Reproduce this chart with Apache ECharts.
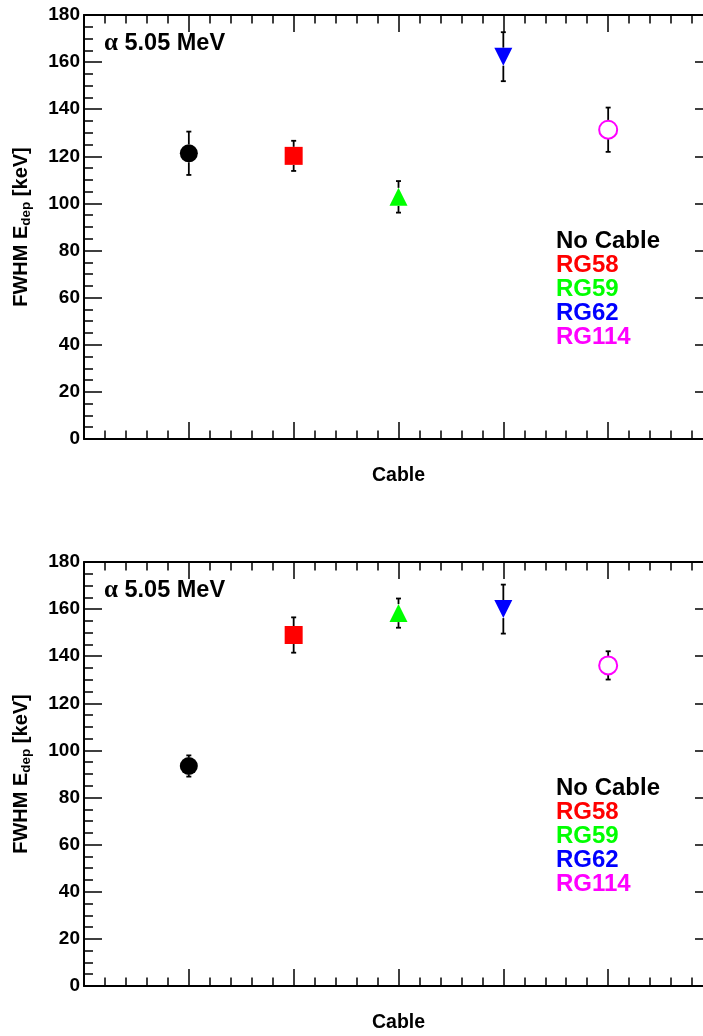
<!DOCTYPE html>
<html>
<head>
<meta charset="utf-8">
<title>FWHM vs Cable</title>
<script src="https://cdn.jsdelivr.net/npm/echarts@6/dist/echarts.min.js"></script>
<style>
  html, body { margin: 0; padding: 0; background: #fff; overflow: hidden; }
  /* the frame runs a little past the right edge of the page */
  #chart { width: 730px; height: 1036px; }
</style>
</head>
<body>
<div id="chart"></div>
<script>
// Cable configurations, their positions on the x scale, and marker colours
const categories = ['No Cable', 'RG58', 'RG59', 'RG62', 'RG114'];
const xPositions = [1, 2, 3, 4, 5];
const colors = ['#000000', '#ff0000', '#00ff00', '#0000ff', '#ff00ff'];

// Upper panel: FWHM of deposited energy [keV] and its uncertainty
const topValues = [121.3, 120.2, 102.8, 162.3, 131.3];
const topErrors = [9.2, 6.4, 6.7, 10.4, 9.4];

// Lower panel
const bottomValues = [93.4, 149.0, 158.3, 160.0, 136.1];
const bottomErrors = [4.5, 7.5, 6.2, 10.4, 6.0];

// Axis ranges
const xRange = [0, 6];
const yRange = [0, 180];
const yStep = 20;

const FONT = '"Liberation Sans", Arial, Helvetica, sans-serif';
const MARKER = 18;
const symbols = ['circle', 'rect', 'triangle', 'triangle', 'emptyCircle'];
const rotations = [0, 0, 0, 180, 0];

const chart = echarts.init(document.getElementById('chart'), null, { renderer: 'canvas' });

const panels = [
  { top: 15, values: topValues, errors: topErrors },
  { top: 562, values: bottomValues, errors: bottomErrors }
];

const axisLine = { show: true, onZero: false, lineStyle: { color: '#000', width: 2 } };

const grids = [], xAxes = [], yAxes = [], series = [], titles = [], legends = [];

panels.forEach((p, pi) => {
  grids.push({ left: 84, top: p.top, width: 629, height: 424 });

  const xBase = {
    type: 'value', gridIndex: pi, min: xRange[0], max: xRange[1], interval: 1,
    axisLine: axisLine,
    axisTick: { show: true, inside: true, length: 17, lineStyle: { color: '#000', width: 1.5 } },
    minorTick: { show: true, splitNumber: 5, length: 8.5, lineStyle: { color: '#000', width: 1.5 } },
    splitLine: { show: false }, minorSplitLine: { show: false },
    axisLabel: { show: false }
  };
  xAxes.push(Object.assign({}, xBase, {
    position: 'bottom', name: 'Cable', nameLocation: 'middle', nameGap: 27,
    nameTextStyle: { fontFamily: FONT, fontWeight: 'bold', fontSize: 19.5, color: '#000' }
  }));
  xAxes.push(Object.assign({}, xBase, { position: 'top' }));

  const yBase = {
    type: 'value', gridIndex: pi, min: yRange[0], max: yRange[1], interval: yStep,
    axisLine: axisLine,
    axisTick: { show: true, inside: true, length: 18, lineStyle: { color: '#000', width: 1.5 } },
    minorTick: { show: true, splitNumber: 4, length: 9, lineStyle: { color: '#000', width: 1.5 } },
    splitLine: { show: false }, minorSplitLine: { show: false }
  };
  yAxes.push(Object.assign({}, yBase, {
    position: 'left',
    axisLabel: { show: true, margin: 4, fontFamily: FONT, fontWeight: 'bold', fontSize: 19, color: '#000' },
    name: '{a|FWHM E}{s|dep}{a| [keV]}',
    nameLocation: 'middle', nameRotate: 90, nameGap: 51,
    nameTextStyle: {
      rich: {
        a: { fontFamily: FONT, fontWeight: 'bold', fontSize: 20, color: '#000', lineHeight: 23 },
        s: { fontFamily: FONT, fontWeight: 'bold', fontSize: 13.5, color: '#000', lineHeight: 23, verticalAlign: 'bottom', padding: [7, 0, 0, 0] }
      }
    }
  }));
  yAxes.push(Object.assign({}, yBase, { position: 'right', axisLabel: { show: false } }));

  // error bars, drawn outside the marker
  series.push({
    type: 'custom', xAxisIndex: pi * 2, yAxisIndex: pi * 2, z: 1, silent: true,
    data: xPositions.map((x, i) => [x, p.values[i], p.errors[i]]),
    renderItem: function (params, api) {
      const x = api.value(0), y = api.value(1), e = api.value(2);
      const c = api.coord([x, y]);
      const t = api.coord([x, y + e]);
      const b = api.coord([x, y - e]);
      const r = MARKER / 2, cap = 2.5;
      const st = { stroke: '#000', lineWidth: 1.8 };
      const children = [];
      if (t[1] < c[1] - r) children.push({ type: 'line', shape: { x1: c[0], y1: t[1], x2: c[0], y2: c[1] - r }, style: st });
      if (b[1] > c[1] + r) children.push({ type: 'line', shape: { x1: c[0], y1: c[1] + r, x2: c[0], y2: b[1] }, style: st });
      children.push({ type: 'line', shape: { x1: c[0] - cap, y1: t[1], x2: c[0] + cap, y2: t[1] }, style: st });
      children.push({ type: 'line', shape: { x1: c[0] - cap, y1: b[1], x2: c[0] + cap, y2: b[1] }, style: st });
      return { type: 'group', children: children };
    }
  });

  categories.forEach((name, i) => {
    series.push({
      type: 'scatter', name: name, xAxisIndex: pi * 2, yAxisIndex: pi * 2, z: 3,
      symbol: symbols[i], symbolRotate: rotations[i], symbolSize: MARKER,
      itemStyle: symbols[i] === 'emptyCircle'
        ? { color: colors[i], borderColor: colors[i], borderWidth: 1.5, opacity: 1 }
        : { color: colors[i], opacity: 1 },
      emphasis: { disabled: true },
      data: [[xPositions[i], p.values[i]]]
    });
  });

  titles.push({
    text: '{g|α}{b| 5.05 MeV}', left: 104, top: p.top + 16, padding: 0,
    textStyle: {
      rich: {
        g: { fontFamily: '"Liberation Serif", "DejaVu Serif", serif', fontSize: 25, color: '#000' },
        b: { fontFamily: FONT, fontWeight: 'bold', fontSize: 23.5, color: '#000' }
      }
    }
  });

  legends.push({
    orient: 'vertical', left: 550, top: p.top + 214, padding: 0,
    itemWidth: 0, itemHeight: 0, itemGap: 0,
    selectedMode: false,
    textStyle: { fontFamily: FONT, fontWeight: 'bold', fontSize: 24, lineHeight: 23.6 },
    data: categories.map((n, i) => ({ name: n, icon: 'rect', itemStyle: { opacity: 0 }, textStyle: { color: colors[i] } }))
  });
});

chart.setOption({
  animation: false,
  backgroundColor: '#fff',
  title: titles,
  legend: legends,
  grid: grids,
  xAxis: xAxes,
  yAxis: yAxes,
  series: series
});
</script>
</body>
</html>
